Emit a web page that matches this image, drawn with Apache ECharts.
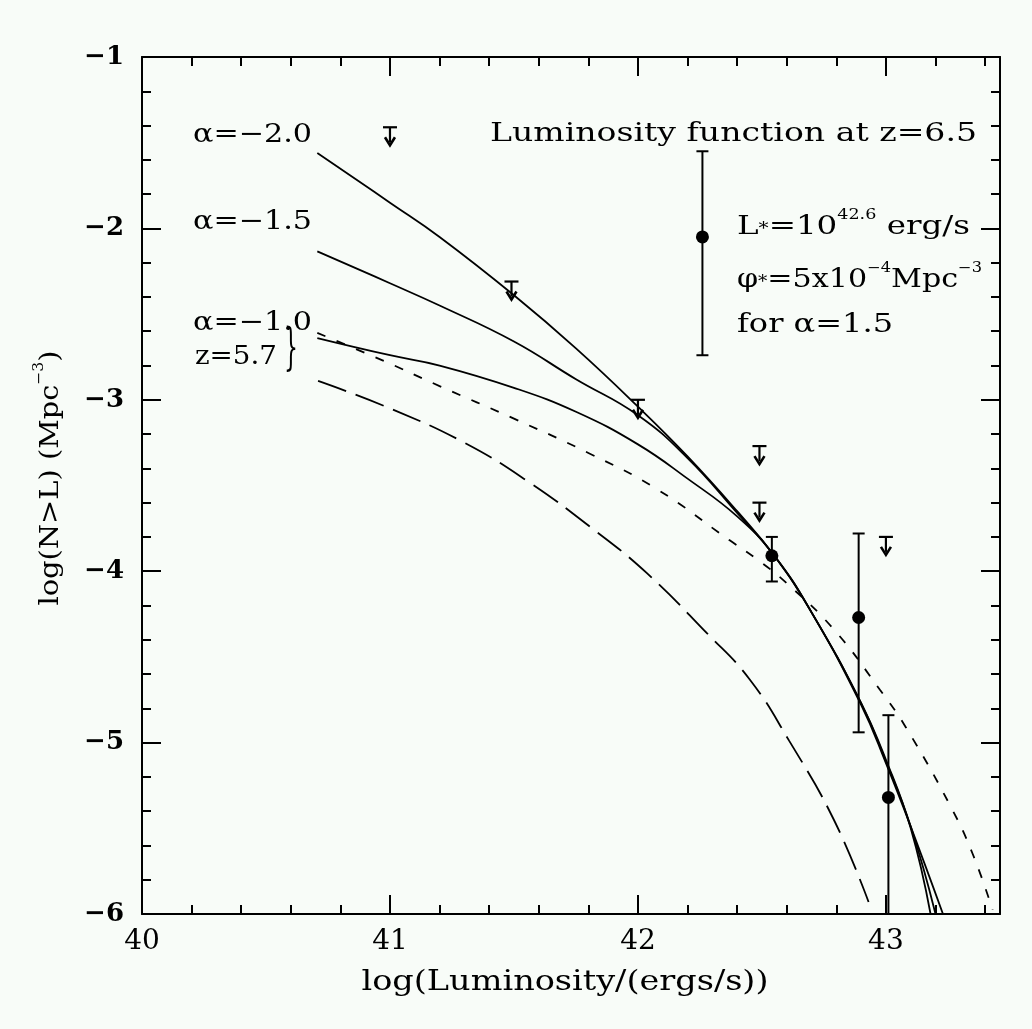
<!DOCTYPE html>
<html><head><meta charset="utf-8">
<script src="https://cdn.jsdelivr.net/npm/echarts@6/dist/echarts.min.js"></script>
<style>html,body{margin:0;padding:0;background:#f8fcf8;}#c{width:1032px;height:1029px;}</style>
</head><body><div id="c"></div>
<script>
// ---- axes ----
const X_MIN = 40, X_MAX = 43.46, Y_MIN = -6, Y_MAX = -1;
const xMajor = [40, 41, 42, 43];
const xMinor = [40.2, 40.4, 40.6, 40.8, 41.2, 41.4, 41.6, 41.8, 42.2, 42.4, 42.6, 42.8, 43.2, 43.4];
const yMajor = [-6, -5, -4, -3, -2, -1];
const yMinor = [-5.8, -5.6, -5.4, -5.2, -4.8, -4.6, -4.4, -4.2, -3.8, -3.6, -3.4, -3.2, -2.8, -2.6, -2.4, -2.2, -1.8, -1.6, -1.4, -1.2];

// ---- model curves ----
const a20_x = [40.707, 41.0, 41.2, 41.5, 41.75, 42.0, 42.2, 42.4, 42.55, 42.7, 42.9, 43.0, 43.1, 43.18];
const a20_y = [-1.56, -1.85, -2.05, -2.39, -2.70, -3.04, -3.33, -3.65, -3.91, -4.24, -4.77, -5.10, -5.50, -6.0];
const a15_x = [40.707, 41.0, 41.2, 41.5, 41.75, 42.0, 42.2, 42.4, 42.55, 42.7, 42.9, 43.0, 43.1, 43.2];
const a15_y = [-2.134, -2.32, -2.45, -2.66, -2.88, -3.09, -3.34, -3.66, -3.91, -4.24, -4.77, -5.11, -5.49, -6.0];
const a10_x = [40.707, 41.0, 41.2, 41.5, 41.75, 42.0, 42.2, 42.4, 42.55, 42.7, 42.9, 43.0, 43.1, 43.23];
const a10_y = [-2.64, -2.74, -2.80, -2.93, -3.07, -3.26, -3.46, -3.68, -3.91, -4.24, -4.78, -5.12, -5.49, -6.0];
const z57_x = [40.707, 40.97, 41.2, 41.5, 41.8, 42.075, 42.37, 42.48, 42.6, 42.79, 42.975, 43.08, 43.26, 43.35, 43.43];
const z57_y = [-2.61, -2.77, -2.92, -3.11, -3.31, -3.52, -3.82, -3.93, -4.07, -4.34, -4.69, -4.91, -5.37, -5.65, -5.975];
const lng_x = [40.71, 41.0, 41.3, 41.55, 41.806, 42.035, 42.277, 42.45, 42.61, 42.79, 42.93];
const lng_y = [-2.89, -3.05, -3.25, -3.47, -3.74, -4.01, -4.36, -4.63, -4.99, -5.45, -5.93];

// ---- observations ----
const lim_x = [41.0, 41.49, 42.0, 42.49, 42.49, 43.0];
const lim_y = [-1.41, -2.31, -3.0, -3.27, -3.60, -3.80];
const pt_x = [42.26, 42.54, 42.89, 43.01];
const pt_y = [-2.05, -3.91, -4.27, -5.32];
const pt_hi = [-1.55, -3.80, -3.78, -4.84];
const pt_lo = [-2.74, -4.06, -4.94, -6.0];

const FONT = "'DejaVu Serif', 'Liberation Serif', serif";
const pairs = (xs, ys) => xs.map((x, i) => [x, ys[i]]);
const minus = s => String(s).replace(/-/g, '\u2212');

const chart = echarts.init(document.getElementById('c'), null, {renderer: 'canvas'});
const GRID = {left: 142, top: 57, width: 858, height: 857};
const grids = [0, 1, 2, 3].map(() => Object.assign({}, GRID));

function xAx(gi, pos, vals, len, showLine, labels) {
  return {
    type: 'value', gridIndex: gi, position: pos, min: X_MIN, max: X_MAX,
    axisLine: {show: showLine, onZero: false, lineStyle: {color: '#000', width: 2}},
    axisTick: {show: true, inside: true, length: len, customValues: vals, lineStyle: {color: '#000', width: 2}},
    axisLabel: labels ? {show: true, customValues: xMajor, margin: 14, color: '#000', fontSize: 28, fontFamily: FONT, formatter: v => minus(v)} : {show: false},
    splitLine: {show: false}
  };
}
function yAx(gi, pos, vals, len, showLine, labels) {
  return {
    type: 'value', gridIndex: gi, position: pos, min: Y_MIN, max: Y_MAX,
    axisLine: {show: showLine, onZero: false, lineStyle: {color: '#000', width: 2}},
    axisTick: {show: true, inside: true, length: len, customValues: vals, lineStyle: {color: '#000', width: 2}},
    axisLabel: labels ? {show: true, customValues: yMajor, margin: 18, color: '#000', fontSize: 26, fontWeight: 'bold', fontFamily: FONT, formatter: v => minus(v)} : {show: false},
    splitLine: {show: false}
  };
}

function lineSeries(xs, ys, dash) {
  return {
    type: 'line', xAxisIndex: 0, yAxisIndex: 0, data: pairs(xs, ys),
    showSymbol: false, symbol: 'none', smooth: 0.45, clip: true,
    lineStyle: {color: '#000', width: 1.8, type: dash || 'solid'}, silent: true, z: 3
  };
}

function fitText(o) {
  const style = {text: o.text, fontSize: o.fontSize, fontFamily: FONT, fontWeight: o.fontWeight || 'normal',
    fill: '#000', rich: o.rich || {}, x: 0, y: 0,
    align: o.align || 'left', verticalAlign: 'middle', textAlign: o.align || 'left', textVerticalAlign: 'middle'};
  let sx = 1;
  try {
    const t = new echarts.graphic.Text({style: Object.assign({}, style)});
    const r = t.getBoundingRect();
    if (r && r.width > 0) sx = o.width / r.width;
  } catch (e) {}
  return {type: 'text', x: o.x, y: o.y, scaleX: sx, scaleY: o.scaleY || 1, rotation: o.rotation || 0, style: style, z: 10, silent: true};
}

function richFor(fs) {
  return {
    n: {fontSize: fs, fontFamily: FONT, lineHeight: fs * 1.3, verticalAlign: 'bottom'},
    sup: {fontSize: Math.round(fs * 0.55), fontFamily: FONT, lineHeight: fs * 1.3, verticalAlign: 'top', padding: [2, 0, 0, 0]},
    sub: {fontSize: Math.round(fs * 0.6), fontFamily: FONT, lineHeight: fs * 1.3, verticalAlign: 'bottom', padding: [0, 0, 2, 0]}
  };
}

const texts = [
  fitText({text: 'Luminosity function at z=6.5', x: 490, y: 134, width: 487, fontSize: 26}),
  fitText({text: '\u03b1=\u22122.0', x: 193, y: 135, width: 119, fontSize: 26}),
  fitText({text: '\u03b1=\u22121.5', x: 193, y: 222, width: 119, fontSize: 26}),
  fitText({text: '\u03b1=\u22121.0', x: 193, y: 323, width: 119, fontSize: 26}),
  fitText({text: 'z=5.7', x: 195, y: 357, width: 82, fontSize: 26}),
  fitText({text: '}', x: 284, y: 351, width: 14, fontSize: 40, scaleY: 1.25}),
  fitText({text: '{n|L}{sub|*}{n|=10}{sup|42.6}{n| erg/s}', rich: richFor(26), x: 737, y: 223, width: 233, fontSize: 26}),
  fitText({text: '{n|\u03c6}{sub|*}{n|=5x10}{sup|\u22124}{n|Mpc}{sup|\u22123}', rich: richFor(26), x: 737, y: 276, width: 245, fontSize: 26}),
  fitText({text: 'for \u03b1=1.5', x: 737, y: 325, width: 156, fontSize: 26}),
  fitText({text: 'log(Luminosity/(ergs/s))', x: 565, y: 983, width: 407, fontSize: 28, align: 'center'}),
  fitText({text: '{n|log(N>L) (Mpc}{sup|\u22123}{n|)}', rich: richFor(26), x: 47, y: 478, width: 255, fontSize: 26, align: 'center', rotation: Math.PI / 2})
];

const option = {
  backgroundColor: '#f8fcf8',
  animation: false,
  grid: grids,
  xAxis: [
    xAx(0, 'bottom', xMajor, 19, true, true),
    xAx(1, 'top', xMajor, 19, true, false),
    xAx(2, 'bottom', xMinor, 9, false, false),
    xAx(3, 'top', xMinor, 9, false, false)
  ],
  yAxis: [
    yAx(0, 'left', yMajor, 19, true, true),
    yAx(1, 'right', yMajor, 19, true, false),
    yAx(2, 'left', yMinor, 9, false, false),
    yAx(3, 'right', yMinor, 9, false, false)
  ],
  series: [
    lineSeries(a20_x, a20_y),
    lineSeries(a15_x, a15_y),
    lineSeries(a10_x, a10_y),
    lineSeries(z57_x, z57_y, [9, 12]),
    lineSeries(lng_x, lng_y, [30, 10]),
    {
      type: 'custom', xAxisIndex: 0, yAxisIndex: 0, z: 5, silent: true, clip: false,
      data: pairs(lim_x, lim_y),
      encode: {x: 0, y: 1},
      renderItem: function (params, api) {
        const p = api.coord([api.value(0), api.value(1)]);
        const st = {stroke: '#000', lineWidth: 2.2};
        return {type: 'group', children: [
          {type: 'line', shape: {x1: p[0] - 7, y1: p[1], x2: p[0] + 7, y2: p[1]}, style: st},
          {type: 'line', shape: {x1: p[0], y1: p[1], x2: p[0], y2: p[1] + 15}, style: st},
          {type: 'polyline', shape: {points: [[p[0] - 5, p[1] + 10], [p[0], p[1] + 18], [p[0] + 5, p[1] + 10]]}, style: {stroke: '#000', lineWidth: 2.6, fill: null}}
        ]};
      }
    },
    {
      type: 'custom', xAxisIndex: 0, yAxisIndex: 0, z: 6, silent: true, clip: false,
      data: pt_x.map((x, i) => [x, pt_y[i], pt_hi[i], pt_lo[i]]),
      encode: {x: 0, y: 1},
      renderItem: function (params, api) {
        const x = api.value(0);
        const pc = api.coord([x, api.value(1)]);
        const ph = api.coord([x, api.value(2)]);
        const pl = api.coord([x, api.value(3)]);
        const st = {stroke: '#000', lineWidth: 2};
        return {type: 'group', children: [
          {type: 'line', shape: {x1: ph[0], y1: ph[1], x2: pl[0], y2: pl[1]}, style: st},
          {type: 'line', shape: {x1: ph[0] - 6, y1: ph[1], x2: ph[0] + 6, y2: ph[1]}, style: st},
          {type: 'line', shape: {x1: pl[0] - 6, y1: pl[1], x2: pl[0] + 6, y2: pl[1]}, style: st},
          {type: 'circle', shape: {cx: pc[0], cy: pc[1], r: 6.5}, style: {fill: '#000'}}
        ]};
      }
    }
  ],
  graphic: texts
};
chart.setOption(option);
</script>
</body></html>
